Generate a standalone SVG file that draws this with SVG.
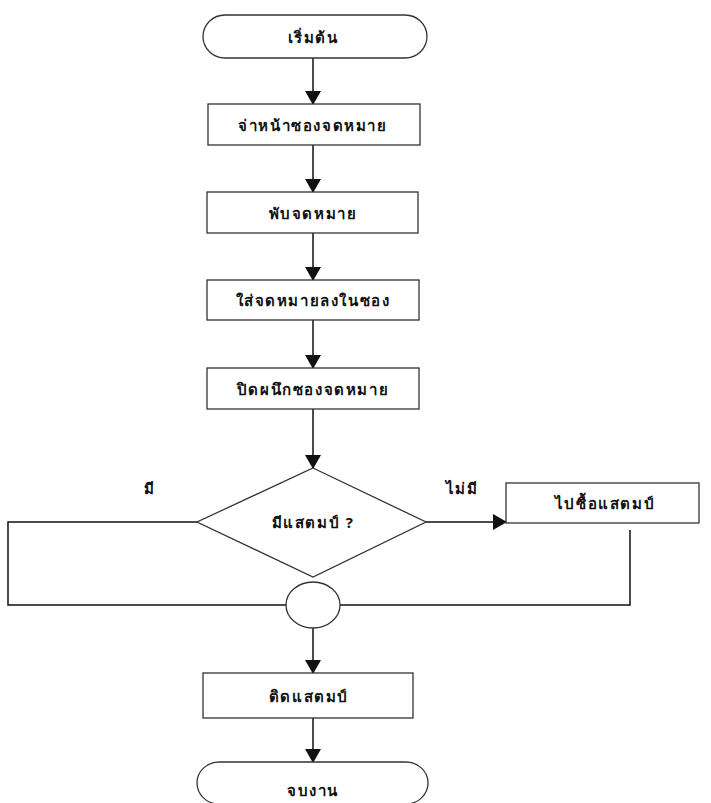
<svg xmlns="http://www.w3.org/2000/svg" width="711" height="803" viewBox="0 0 711 803">
<style>
.s{fill:#fff;stroke:#333;stroke-width:1.3}
.t{font-family:"Noto Sans","DejaVu Sans",sans-serif;font-size:15px;font-weight:bold;fill:#111;text-anchor:middle;dominant-baseline:central;letter-spacing:1.6px}
.c{fill:none;stroke:#111;stroke-width:1.5}
</style>
<defs>
<marker id="a" viewBox="0 0 14 16" markerWidth="14" markerHeight="16" refX="13" refY="8" orient="auto" markerUnits="userSpaceOnUse">
<path d="M0,0 L14,8 L0,16 Z" fill="#111"/>
</marker>
</defs>
<rect width="711" height="803" fill="#fff"/>
<g id="connectors">
<line class="c" x1="313" y1="58" x2="313" y2="104" marker-end="url(#a)"/>
<line class="c" x1="313" y1="145" x2="313" y2="192" marker-end="url(#a)"/>
<line class="c" x1="313" y1="233" x2="313" y2="280" marker-end="url(#a)"/>
<line class="c" x1="313" y1="320" x2="313" y2="368" marker-end="url(#a)"/>
<line class="c" x1="313" y1="409" x2="313" y2="468" marker-end="url(#a)"/>
<line class="c" x1="426" y1="522" x2="506" y2="522" marker-end="url(#a)"/>
<polyline class="c" points="197,522 8,522 8,605 287,605"/>
<polyline class="c" points="630,530 630,605 340,605"/>
<line class="c" x1="313" y1="628" x2="313" y2="673" marker-end="url(#a)"/>
<line class="c" x1="313" y1="718" x2="313" y2="762" marker-end="url(#a)"/>
<text class="t" x="150" y="488">มี</text>
<text class="t" x="462" y="488">ไม่มี</text>
</g>
<g id="start">
<rect class="s" x="203" y="15" width="224" height="43" rx="22" ry="21.5"/>
<text class="t" x="313" y="37">เริ่มต้น</text>
</g>
<g id="n1">
<rect class="s" x="208" y="104" width="212" height="41"/>
<text class="t" x="313" y="125">จ่าหน้าซองจดหมาย</text>
</g>
<g id="n2">
<rect class="s" x="207" y="192" width="211" height="41"/>
<text class="t" x="313" y="213">พับจดหมาย</text>
</g>
<g id="n3">
<rect class="s" x="207" y="280" width="212" height="40"/>
<text class="t" x="313" y="300">ใส่จดหมายลงในซอง</text>
</g>
<g id="n4">
<rect class="s" x="207" y="368" width="212" height="41"/>
<text class="t" x="313" y="389">ปิดผนึกซองจดหมาย</text>
</g>
<g id="decision">
<polygon class="s" points="313,468 426,522 313,577 197,522"/>
<text class="t" x="313" y="522">มีแสตมป์ ?</text>
</g>
<g id="buy">
<rect class="s" x="506" y="483" width="193" height="40"/>
<text class="t" x="605" y="503">ไปซื้อแสตมป์</text>
</g>
<g id="join">
<ellipse class="s" cx="313" cy="605" rx="27" ry="23"/>
</g>
<g id="n5">
<rect class="s" x="203" y="673" width="210" height="45"/>
<text class="t" x="309" y="696">ติดแสตมป์</text>
</g>
<g id="end">
<rect class="s" x="197" y="762" width="231" height="42" rx="22" ry="21"/>
<text class="t" x="313" y="790">จบงาน</text>
</g>
</svg>
